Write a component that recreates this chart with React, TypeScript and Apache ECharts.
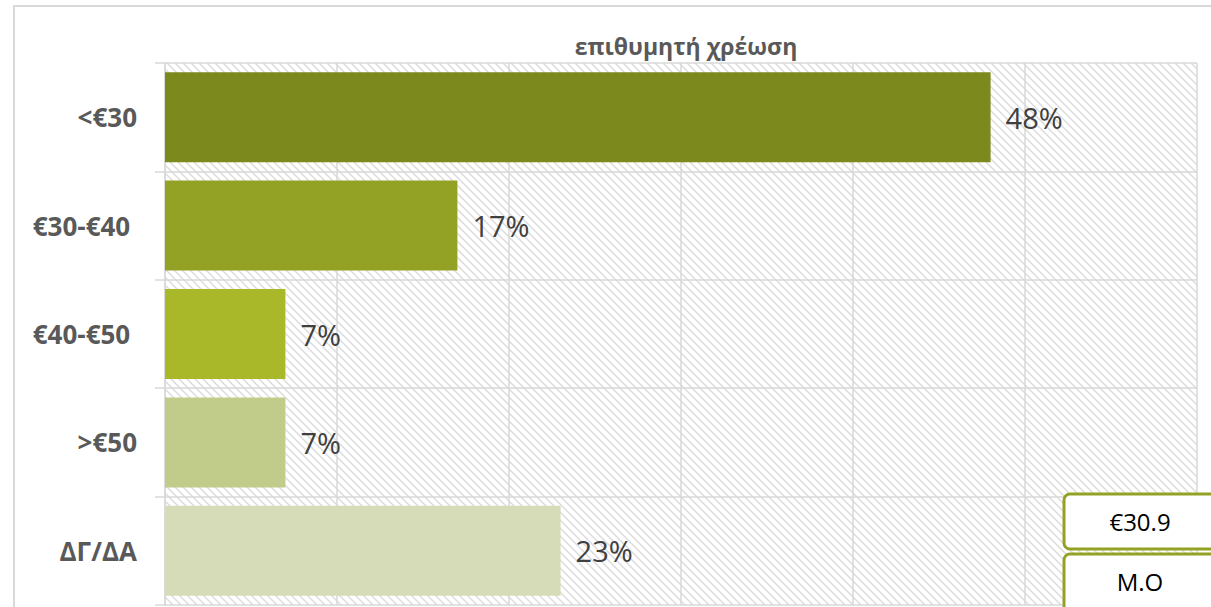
import React, { useEffect, useRef } from "react";
import * as echarts from "echarts";

const categories = ["<€30", "€30-€40 ", "€40-€50 ", ">€50", "ΔΓ/ΔΑ"];
const values = [48, 17, 7, 7, 23];
const barColors = ["#7c891d", "#93a224", "#a8b828", "#c1cb8a", "#d6dcb8"];
const titleText = "επιθυμητή χρέωση";
const boxTexts = ["€30.9", "M.O"];

const FONT = "'Open Sans', sans-serif";

const hatchSvg =
  "<svg xmlns='http://www.w3.org/2000/svg' width='8' height='8'>" +
  "<path d='M0 0L8 8M-4 4L4 12M4 -4L12 4' stroke='#dcdcdc' stroke-width='1.5'/></svg>";
const hatchUrl = "data:image/svg+xml;charset=utf-8," + encodeURIComponent(hatchSvg);

export default function App() {
  const ref = useRef<HTMLDivElement>(null);
  useEffect(() => {
    if (!ref.current) return;
    const chart = echarts.init(ref.current, null, { renderer: "svg" });
    const gridLeft = 165;
    const gridTop = 63;
    const gridRight = 14;
    const gridBottom = 2;
    const W = 1211;
    const H = 607;
    chart.setOption({
      animation: false,
      backgroundColor: "#ffffff",
      title: {
        text: titleText,
        left: 681,
        top: 29,
        textAlign: "center",
        textStyle: { fontFamily: FONT, fontWeight: "bold", fontSize: 23, color: "#595959" },
      },
      grid: { left: gridLeft, right: gridRight, top: gridTop, bottom: gridBottom },
      xAxis: {
        type: "value",
        min: 0,
        max: 60,
        interval: 10,
        axisLabel: { show: false },
        axisLine: { show: false },
        axisTick: { show: false },
        splitLine: { show: true, lineStyle: { color: "#d9d9d9", width: 1.5 } },
      },
      yAxis: {
        type: "category",
        data: categories,
        inverse: true,
        axisLine: { show: true, lineStyle: { color: "#d9d9d9", width: 1.5 } },
        axisTick: { show: true, length: 10, lineStyle: { color: "#d9d9d9", width: 1.5 } },
        splitLine: { show: true, lineStyle: { color: "#d9d9d9", width: 1.5 } },
        axisLabel: {
          margin: 28,
          fontFamily: FONT,
          fontWeight: "bold",
          fontSize: 26,
          color: "#595959",
        },
      },
      series: [
        {
          type: "bar",
          barCategoryGap: "17%",
          data: values.map((v, i) => ({ value: v, itemStyle: { color: barColors[i] } })),
          label: {
            show: true,
            position: "right",
            distance: 15,
            formatter: (p: any) => p.value + "%",
            fontFamily: FONT,
            fontSize: 29,
            color: "#404040",
          },
        },
      ],
      graphic: [
        {
          type: "rect",
          z: -10,
          silent: true,
          shape: { x: gridLeft, y: gridTop, width: W - gridLeft - gridRight, height: H - gridTop - gridBottom },
          style: { fill: { image: hatchUrl, repeat: "repeat", imageWidth: 8, imageHeight: 8 } as any },
        },
        {
          type: "rect",
          z: -11,
          silent: true,
          shape: { x: 14, y: 6, width: 1300, height: 700 },
          style: { fill: "#ffffff", stroke: "#d9d9d9", lineWidth: 2 },
        },
        {
          type: "rect",
          z: 100,
          shape: { x: 1064, y: 494, width: 160, height: 55, r: 6 },
          style: { fill: "#ffffff", stroke: "#93a224", lineWidth: 3 },
        },
        {
          type: "text",
          z: 101,
          x: 1140,
          y: 521,
          style: {
            text: boxTexts[0],
            fontFamily: FONT,
            fontSize: 24,
            fill: "#000000",
            textAlign: "center",
            textVerticalAlign: "middle",
          },
        },
        {
          type: "rect",
          z: 100,
          shape: { x: 1064, y: 554, width: 160, height: 60, r: 6 },
          style: { fill: "#ffffff", stroke: "#93a224", lineWidth: 3 },
        },
        {
          type: "text",
          z: 101,
          x: 1140,
          y: 581,
          style: {
            text: boxTexts[1],
            fontFamily: FONT,
            fontSize: 24,
            fill: "#000000",
            textAlign: "center",
            textVerticalAlign: "middle",
          },
        },
      ],
    });
    return () => chart.dispose();
  }, []);
  return (
    <div
      ref={ref}
      style={{ position: "absolute", left: 0, top: 0, width: 1211, height: 607 }}
    />
  );
}
